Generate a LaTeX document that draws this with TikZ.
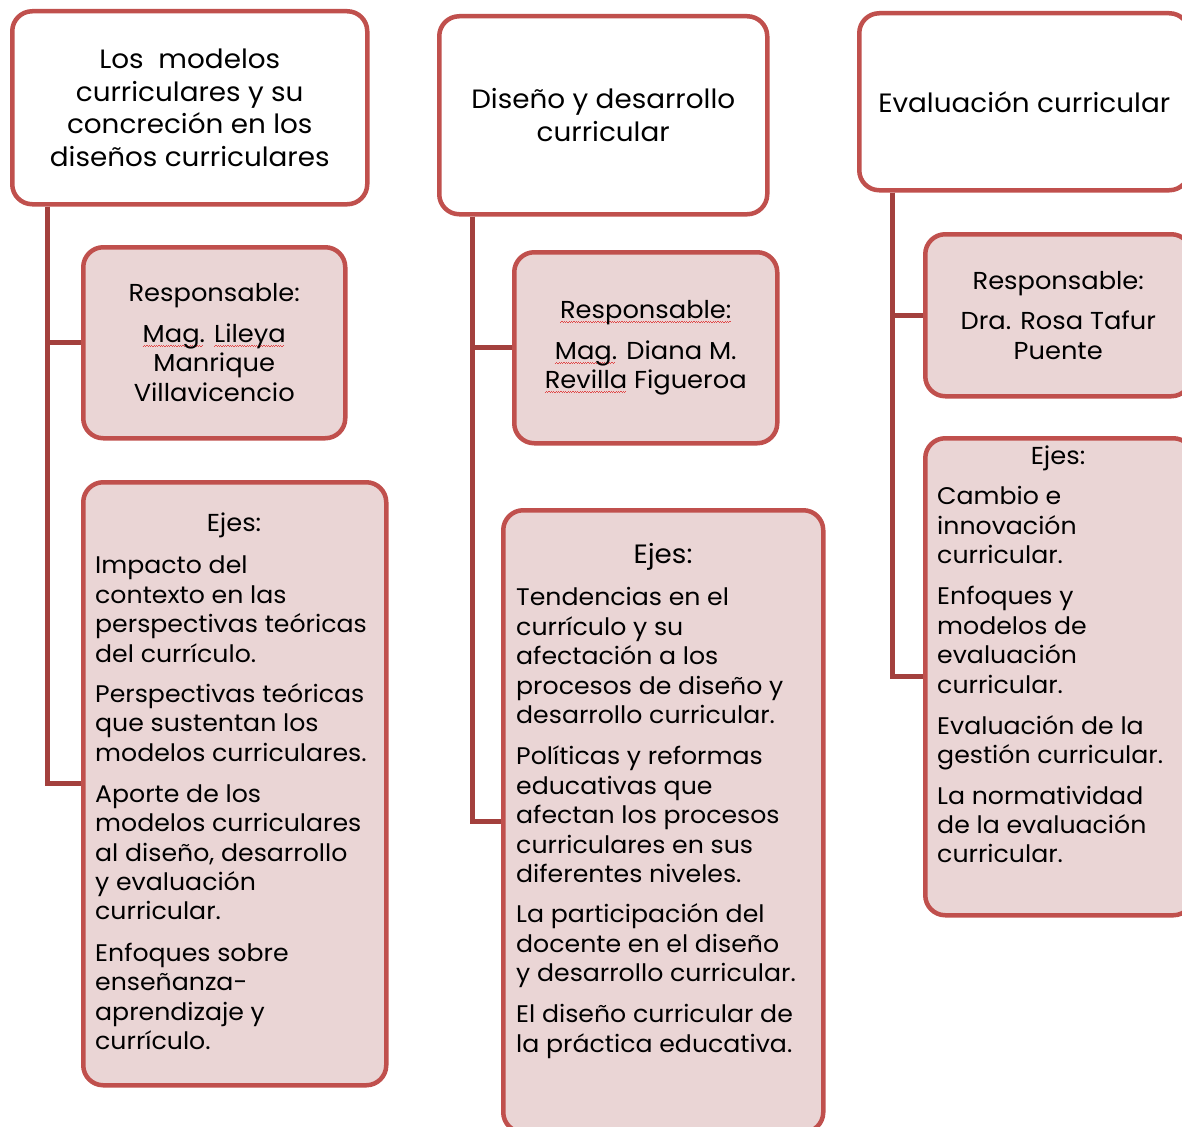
\documentclass[tikz,border=0pt]{standalone}
\usepackage{fontspec}
\setmainfont[FakeStretch=1.05]{Poppins}
\definecolor{bord}{HTML}{C0504D}
\definecolor{connc}{HTML}{A3403D}
\definecolor{fillp}{HTML}{EAD5D5}
\definecolor{squig}{HTML}{E04848}
\newcommand\sq[1]{\setbox0=\hbox{#1}\rlap{\raisebox{-4pt}{\textcolor{squig}{\leaders\hbox to 2.4pt{\rule{1.2pt}{0.5pt}\rule[0.6pt]{1.2pt}{0.5pt}}\hskip\wd0}}}#1}
\tikzset{
  box/.style={draw=bord, line width=4.5pt, rounded corners=20pt, inner sep=0pt, anchor=north west, align=center},
  hdr/.style={box, fill=white, font=\fontsize{26.5}{32.5}\selectfont},
  resp/.style={box, fill=fillp, font=\fontsize{24.5}{29.5}\selectfont},
  ejes/.style={box, fill=fillp},
  conn/.style={draw=connc, line width=5pt},
  txt/.style={font=\fontsize{24}{29.5}\selectfont, inner sep=0pt, anchor=base west},
  ttl/.style={font=\fontsize{24.5}{29.5}\selectfont, inner sep=0pt, anchor=base}
}
\begin{document}
\begin{tikzpicture}[x=1pt,y=-1pt]
\useasboundingbox (0,0) rectangle (1182,1126);
\clip (0,0) rectangle (1182,1126);
% column 1
\node[hdr, minimum width=355pt, minimum height=193pt] (h1) at (10,9) {Los\ \ modelos\\curriculares y su\\concreción en los\\diseños curriculares};
\node[resp, minimum width=262pt, minimum height=191pt] (r1) at (81,245) {Responsable:\\[11pt]\sq{Mag.} \sq{Lileya}\\Manrique\\Villavicencio};
\node[ejes, minimum width=303pt, minimum height=603pt] (e1) at (81,480) {};
\draw[conn] ([xshift=37pt]h1.south west) |- (r1.west);
\draw[conn] ([xshift=37pt]h1.south west) |- (e1.west);
\node[ttl] (e1t) at (234,531) {Ejes:};
\foreach \y/\t in {566/Impacto del, 596/contexto en las, 625/perspectivas teóricas, 655/del currículo.,
  695/Perspectivas teóricas, 724/que sustentan los, 754/modelos curriculares.,
  795/Aporte de los, 824/modelos curriculares, 854/{al diseño, desarrollo}, 883/y evaluación, 912/curricular.,
  954/Enfoques sobre, 983/enseñanza-, 1013/aprendizaje y, 1042/currículo.}
  \node[txt] (c1-\y) at (95,\y+7) {\t};
% column 2
\node[hdr, minimum width=328pt, minimum height=198pt] (h2) at (437,14) {Diseño y desarrollo\\curricular};
\node[resp, minimum width=263pt, minimum height=191pt] (r2) at (512,250) {\sq{Responsable:}\\[11pt]\sq{Mag.} Diana M.\\\sq{Revilla} Figueroa};
\node[ejes, minimum width=320pt, minimum height=622pt] (e2) at (501,508) {};
\draw[conn] ([xshift=35pt]h2.south west) |- (r2.west);
\draw[conn] ([xshift=35pt]h2.south west) |- (e2.west);
\node[ttl, font=\fontsize{26.5}{29.5}\selectfont] (e2t) at (663,563) {Ejes:};
\foreach \y/\t in {598/Tendencias en el, 628/currículo y su, 657/afectación a los, 687/procesos de diseño y, 716/desarrollo curricular.,
  757/Políticas y reformas, 787/educativas que, 816/afectan los procesos, 846/curriculares en sus, 875/diferentes niveles.,
  915/La participación del, 945/docente en el diseño, 974/y desarrollo curricular.,
  1015/El diseño curricular de, 1045/la práctica educativa.}
  \node[txt] (c2-\y) at (516,\y+7) {\t};
% column 3
\node[hdr, minimum width=330pt, minimum height=177pt] (h3) at (857,11) {Evaluación curricular};
\node[resp, minimum width=266pt, minimum height=162pt] (r3) at (923,232) {Responsable:\\[11pt]Dra. Rosa Tafur\\Puente};
\node[ejes, minimum width=268pt, minimum height=477pt] (e3) at (923,436) {};
\draw[conn] ([xshift=35pt]h3.south west) |- (r3.west);
\draw[conn] ([xshift=35pt]h3.south west) |- (e3.west);
\node[ttl] (e3t) at (1058,464) {Ejes:};
\foreach \y/\t in {497/Cambio e, 527/innovación, 556/curricular.,
  597/Enfoques y, 627/modelos de, 656/evaluación, 686/curricular.,
  727/Evaluación de la, 756/gestión curricular.,
  797/La normatividad, 826/de la evaluación, 855/curricular.}
  \node[txt] (c3-\y) at (937,\y+7) {\t};
\end{tikzpicture}
\end{document}
